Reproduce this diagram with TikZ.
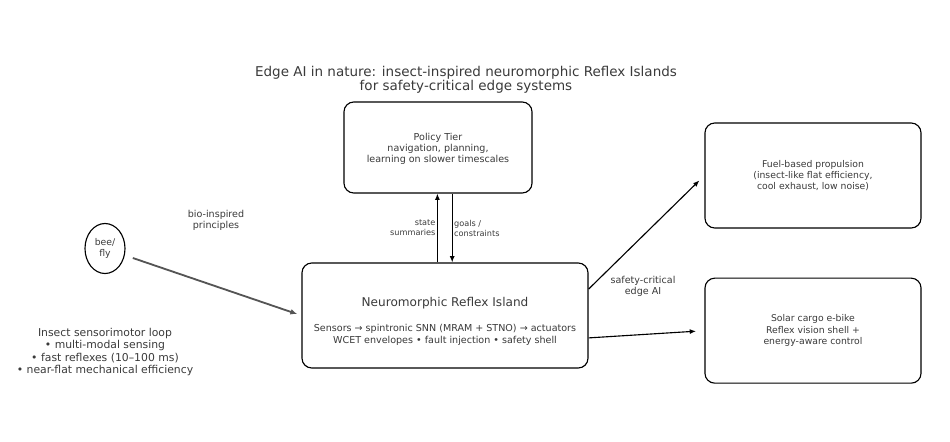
\documentclass[tikz,border=0pt]{standalone}
\usepackage{fontspec}
\setmainfont{DejaVu Sans}
\usetikzlibrary{shapes.geometric,arrows.meta,positioning,calc}
\definecolor{inkgray}{HTML}{3A3A3A}
\definecolor{biogray}{HTML}{555555}
\newcommand{\fs}[2]{\fontsize{#1}{#2}\selectfont}
\tikzset{
  tierbox/.style={rectangle, draw=black, thick, rounded corners=7pt, fill=white,
    minimum width=4.7cm, minimum height=2.275cm, align=center, text=inkgray,
    font=\fs{6.8}{8}, inner sep=3pt},
  islandbox/.style={rectangle, draw=black, thick, rounded corners=7pt, fill=white,
    minimum width=7.15cm, minimum height=2.625cm, align=center, text=inkgray,
    font=\fs{6.8}{8.5}, inner sep=3pt},
  appbox/.style={rectangle, draw=black, thick, rounded corners=7pt, fill=white,
    minimum width=5.4cm, minimum height=2.625cm, align=center, text=inkgray,
    font=\fs{6.6}{8}, inner sep=3pt},
  insectnode/.style={ellipse, draw=black, thick, minimum width=1.0cm, minimum height=1.25cm,
    inner sep=0pt, align=center, text=inkgray, font=\fs{6.6}{7.6}},
  smalllabel/.style={align=center, text=inkgray, font=\fs{5.8}{7.1}, inner sep=1pt},
  notelabel/.style={align=center, text=inkgray, font=\fs{7.7}{8.8}, inner sep=1pt},
  flowarrow/.style={-{Latex[length=4.5pt,width=3.6pt]}, draw=black, thick},
  bioarrow/.style={-{Latex[length=5pt,width=4pt]}, draw=biogray, line width=1.3pt},
}

\begin{document}
\begin{tikzpicture}[x=0.025cm, y=-0.025cm]
  \useasboundingbox (0,0) rectangle (950,442);

  % Title
  \node[align=center, text=inkgray, font=\fs{9.6}{10}] (title) at (466,80)
    {Edge AI in nature: insect-inspired neuromorphic Reflex Islands\\for safety-critical edge systems};

  % Two tiers in the middle
  \node[tierbox] (policy) at (438,147.5)
    {\rule{0pt}{7pt}Policy Tier\\navigation, planning,\\learning on slower timescales};
  \node[islandbox] (island) at (445,315.5)
    {{\fs{8.6}{9}\rule{0pt}{15pt}Neuromorphic Reflex Island}\\[9pt]
     Sensors → spintronic SNN (MRAM + STNO) → actuators\\
     WCET envelopes • fault injection • safety shell};

  % Applications on the right
  \node[appbox] (fuel) at (813,175.5)
    {Fuel-based propulsion\\(insect-like flat efficiency,\\cool exhaust, low noise)};
  \node[appbox, below=1.225cm of fuel] (ebike)
    {Solar cargo e-bike\\Reflex vision shell +\\energy-aware control};

  % Insect on the left
  \node[insectnode] (bee) at (105,248.5) {bee/\\fly};
  \node[smalllabel, font=\fs{6.8}{8}] (biolabel) at (216,220.5) {bio-inspired\\principles};
  \node[notelabel] (loop) at (105,352)
    {Insect sensorimotor loop\\• multi-modal sensing\\• fast reflexes (10–100 ms)\\• near-flat mechanical efficiency};

  % Insect principles feed the island
  \draw[bioarrow, shorten <=6pt, shorten >=3pt] (bee) -- (island.west);

  % Exchange between island and policy tier
  \draw[flowarrow] ([xshift=-0.19cm]island.north) -- ([xshift=-0.19cm]island.north |- policy.south)
    node[smalllabel, midway, left, align=right] {state\\summaries};
  \draw[flowarrow] ([xshift=0.18cm]island.north |- policy.south) -- ([xshift=0.18cm]island.north)
    node[smalllabel, midway, right, align=left] {goals /\\constraints};

  % Island drives the applications
  \draw[flowarrow, shorten >=5pt] ([yshift=0.66cm]island.east) -- (fuel.west);
  \draw[flowarrow, shorten >=6pt] ([yshift=-0.56cm]island.east) -- (ebike.west);
  \node[smalllabel, font=\fs{6.8}{8}] (safelabel) at (643,286) {safety-critical\\edge AI};
\end{tikzpicture}
\end{document}
